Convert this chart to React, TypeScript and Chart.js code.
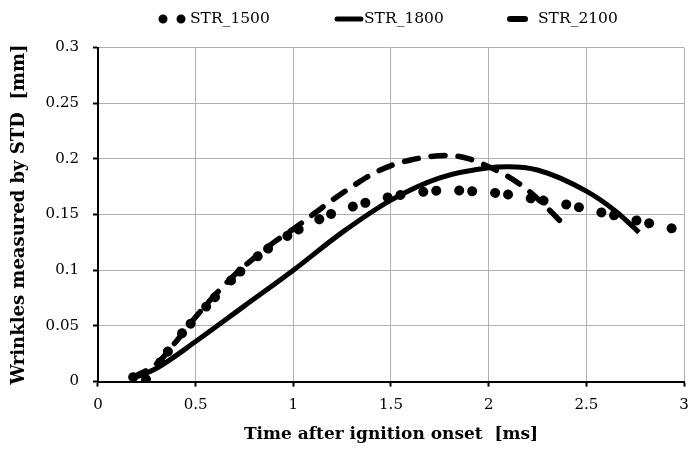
import React, { useEffect, useRef } from 'react';
import { Chart, registerables } from 'chart.js';

Chart.register(...registerables);

const FONT = '"DejaVu Serif", serif';

const seriesNames = ['STR_1500', 'STR_1800', 'STR_2100'];

const str1500X = [0.18, 0.25, 0.3, 0.4, 0.5, 0.6, 0.7, 0.8, 0.9, 1.0, 1.1, 1.2, 1.3, 1.4, 1.5, 1.6, 1.7, 1.8, 1.9, 2.0, 2.1, 2.2, 2.3, 2.4, 2.5, 2.6, 2.7, 2.8, 2.9, 2.98];
const str1500Y = [0.004, 0.002, 0.013, 0.037, 0.057, 0.076, 0.094, 0.11, 0.123, 0.134, 0.143, 0.151, 0.157, 0.162, 0.166, 0.169, 0.171, 0.172, 0.171, 0.17, 0.168, 0.165, 0.162, 0.159, 0.155, 0.151, 0.147, 0.143, 0.139, 0.136];

const str1800X = [0.18, 0.3, 0.5, 0.75, 1.0, 1.25, 1.5, 1.75, 2.0, 2.1, 2.25, 2.5, 2.65, 2.77];
const str1800Y = [0.003, 0.012, 0.036, 0.068, 0.1, 0.134, 0.163, 0.183, 0.192, 0.193, 0.19, 0.171, 0.153, 0.134];

const str2100X = [0.18, 0.3, 0.4, 0.5, 0.6, 0.7, 0.8, 0.9, 1.0, 1.1, 1.2, 1.3, 1.4, 1.5, 1.6, 1.7, 1.8, 1.9, 2.0, 2.1, 2.2, 2.3, 2.4];
const str2100Y = [0.004, 0.016, 0.036, 0.058, 0.078, 0.096, 0.111, 0.125, 0.137, 0.15, 0.163, 0.175, 0.186, 0.194, 0.199, 0.202, 0.203, 0.2, 0.193, 0.184, 0.172, 0.156, 0.138];

const xTitle = 'Time after ignition onset  [ms]';
const yTitle = 'Wrinkles measured by STD  [mm]';

const toPoints = (xs: number[], ys: number[]) => xs.map((x, i) => ({ x, y: ys[i] }));

const legendPlugin = {
  id: 'customLegend',
  afterDraw(chart: any) {
    const ctx = chart.ctx as CanvasRenderingContext2D;
    const cy = 19;
    ctx.save();
    ctx.strokeStyle = '#000';
    ctx.lineCap = 'round';
    ctx.lineWidth = 9;
    ctx.setLineDash([0.01, 18]);
    ctx.beginPath();
    ctx.moveTo(163, cy);
    ctx.lineTo(182, cy);
    ctx.stroke();
    ctx.setLineDash([]);
    ctx.lineWidth = 5;
    ctx.beginPath();
    ctx.moveTo(337, cy);
    ctx.lineTo(361, cy);
    ctx.stroke();
    ctx.lineWidth = 6;
    ctx.beginPath();
    ctx.moveTo(510, cy);
    ctx.lineTo(525, cy);
    ctx.stroke();
    ctx.fillStyle = '#000';
    ctx.font = `15.5px ${FONT}`;
    ctx.textBaseline = 'middle';
    ctx.textAlign = 'left';
    ctx.fillText(seriesNames[0], 190, cy);
    ctx.fillText(seriesNames[1], 364, cy);
    ctx.fillText(seriesNames[2], 538, cy);
    ctx.restore();
  },
};

export default function App() {
  const ref = useRef<HTMLCanvasElement | null>(null);
  useEffect(() => {
    document.body.style.margin = '0';
    if (!ref.current) return;
    const chart = new Chart(ref.current, {
      type: 'line',
      data: {
        datasets: [
          {
            label: seriesNames[0],
            data: toPoints(str1500X, str1500Y),
            borderColor: '#000',
            borderWidth: 10,
            borderCapStyle: 'round',
            borderDash: [0.01, 13, 0.01, 23],
            pointRadius: 0,
            cubicInterpolationMode: 'monotone',
            fill: false,
          },
          {
            label: seriesNames[1],
            data: toPoints(str1800X, str1800Y),
            borderColor: '#000',
            borderWidth: 5,
            pointRadius: 0,
            cubicInterpolationMode: 'monotone',
            fill: false,
          },
          {
            label: seriesNames[2],
            data: toPoints(str2100X, str2100Y),
            borderColor: '#000',
            borderWidth: 5.5,
            borderCapStyle: 'round',
            borderDash: [14, 13],
            pointRadius: 0,
            cubicInterpolationMode: 'monotone',
            fill: false,
          },
        ],
      },
      options: {
        responsive: false,
        animation: false,
        layout: { padding: { top: 47.5, right: 5, bottom: 7, left: 9 } },
        plugins: {
          legend: { display: false },
          tooltip: { enabled: false },
        },
        scales: {
          x: {
            type: 'linear',
            min: 0,
            max: 3,
            afterFit: (scale: any) => {
              scale.paddingRight = 0;
            },
            ticks: {
              stepSize: 0.5,
              color: '#000',
              font: { family: FONT, size: 15 },
              padding: 10,
              callback: (v: any) => String(+Number(v).toFixed(4)),
            },
            grid: { color: '#b0b0b0', lineWidth: 1, tickColor: '#000', tickWidth: 2, tickLength: 5 },
            border: { color: '#000', width: 2 },
            title: {
              display: true,
              text: xTitle,
              color: '#000',
              font: { family: FONT, size: 17, weight: 'bold' },
              padding: { top: 0, bottom: 0 },
            },
          },
          y: {
            type: 'linear',
            min: 0,
            max: 0.3,
            ticks: {
              stepSize: 0.05,
              color: '#000',
              font: { family: FONT, size: 15 },
              padding: 14,
              callback: (v: any) => String(+Number(v).toFixed(4)),
            },
            grid: { color: '#b0b0b0', lineWidth: 1, tickColor: '#000', tickWidth: 2, tickLength: 5 },
            border: { color: '#000', width: 2 },
            title: {
              display: true,
              text: yTitle,
              color: '#000',
              font: { family: FONT, size: 18, weight: 'bold' },
              padding: { top: 0, bottom: 1 },
            },
          },
        },
      },
      plugins: [legendPlugin],
    } as any);
    return () => chart.destroy();
  }, []);
  return (
    <div style={{ position: 'fixed', left: 0, top: 0, width: 689, height: 452 }}>
      <canvas ref={ref} width={689} height={452} style={{ width: 689, height: 452 }} />
    </div>
  );
}
